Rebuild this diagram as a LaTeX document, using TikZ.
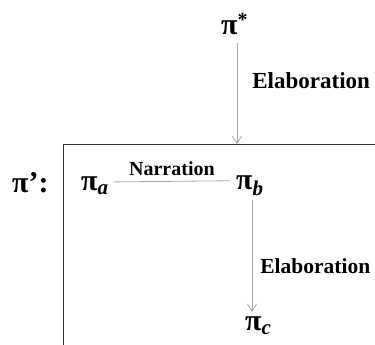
\documentclass[tikz,border=0pt]{standalone}
\usepackage{fontspec}
\setmainfont{Liberation Serif}
\usetikzlibrary{arrows.meta,positioning}

\begin{document}
\begin{tikzpicture}[x=1pt, y=-1pt, >={Straight Barb[length=7pt,width=9pt]},
  pinode/.style={font=\fontsize{30}{32}\selectfont\bfseries, inner sep=0pt},
  rel/.style={font=\fontsize{23}{25}\selectfont\bfseries, text=black, inner sep=0pt},
  link/.style={gray!70, line width=0.8pt}]
  \useasboundingbox (0,0) rectangle (375,345);

  % Top segment and the arrow into the box
  \node[pinode, anchor=west] (pistar) at (221,24) {π\raisebox{8pt}{\fontsize{20}{20}\selectfont *}};
  \coordinate (boxtop) at (237,144);
  \draw[link,->] (pistar.south -| boxtop) ++(0,8) -- (boxtop)
    node[rel, pos=0.37, right=15pt] (elab1) {Elaboration};

  % Box around pi' (open to the right and bottom)
  \draw[black!80, line width=0.8pt] (63,345) -- (63,144) -- (375,144);
  \node[pinode, anchor=west] (piprime) at (12,183) {π':};

  % Inner segments
  \node[pinode, anchor=west] (pia) at (81,186) {π\textsubscript{\textit{a}}};
  \node[pinode, anchor=west] (pib) at (236,186) {π\textsubscript{\textit{b}}};
  \node[pinode, anchor=west] (pic) at (245,326) {π\textsubscript{\textit{c}}};

  \draw[link] ([xshift=5pt,yshift=9pt]pia.base east) -- ([xshift=-6pt,yshift=9pt]pib.base west)
    node[rel, midway, above=5pt, font=\fontsize{20}{22}\selectfont\bfseries] (narr) {Narration};
  \draw[link,->] ([yshift=-4pt]pib.south -| 252,0) -- ([yshift=5pt]pic.north -| 252,0)
    node[rel, pos=0.59, right=8pt, font=\fontsize{21.5}{23}\selectfont\bfseries] (elab2) {Elaboration};
\end{tikzpicture}
\end{document}
